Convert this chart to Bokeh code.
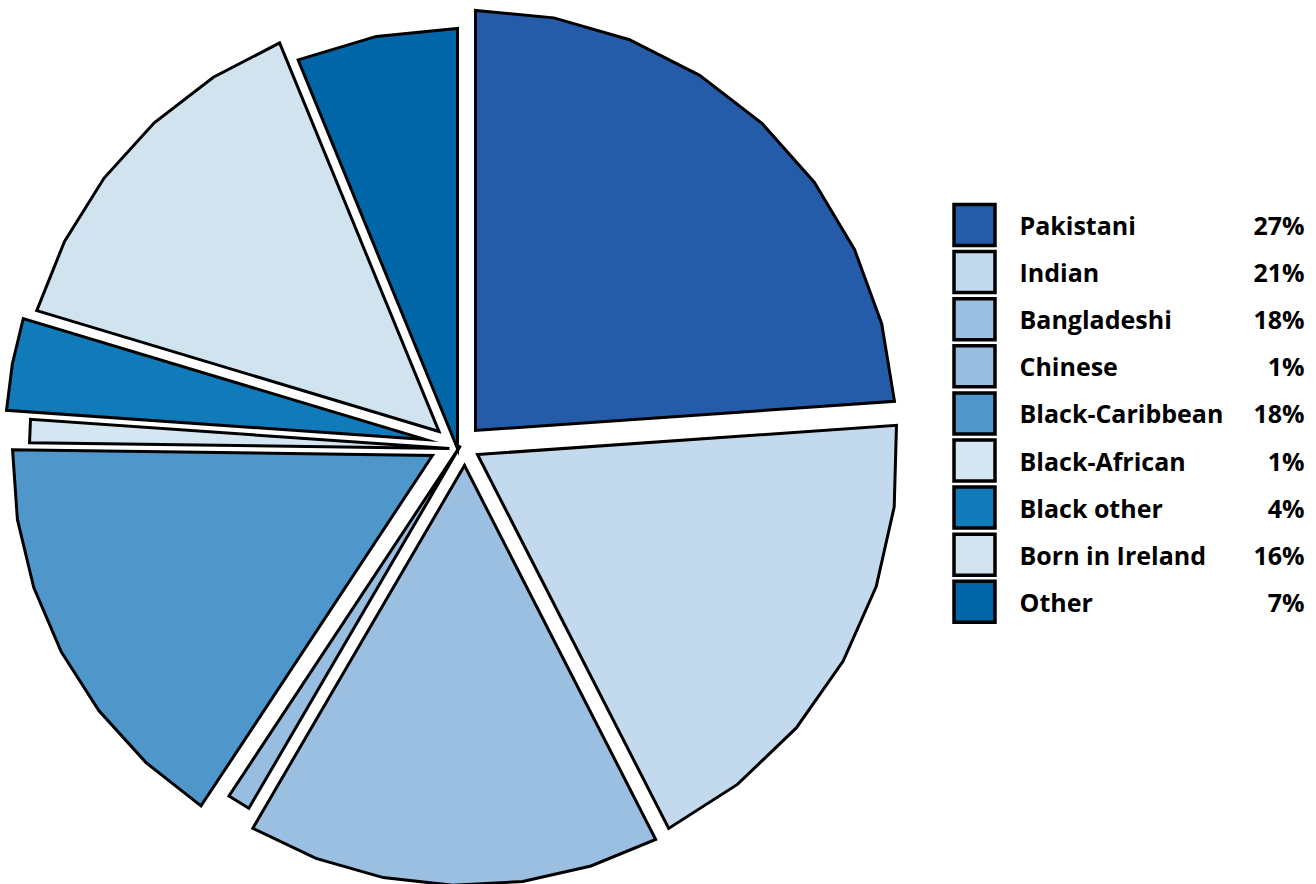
import math
from bokeh.plotting import figure
from bokeh.models import Range1d, ColumnDataSource
from bokeh.core.properties import value
from bokeh.embed import file_html
from bokeh.resources import INLINE

# ---- data ----
categories = ["Pakistani", "Indian", "Bangladeshi", "Chinese", "Black-Caribbean",
              "Black-African", "Black other", "Born in Ireland", "Other"]
shares = [27, 21, 18, 1, 18, 1, 4, 16, 7]

# ---- style ----
colors = ["#255CAA", "#C3DAEE", "#9ABFE1", "#97BEE0", "#4F97CA",
          "#D4E6F2", "#117AB9", "#D0E3EF", "#0066A8"]
# per-slice explode offsets in pixels (screen coords, y down)
explode_dx = [20, 22, 9, 5, -23, -6, -30, -16.5, 2]
explode_dy = [-17, 7, 18, -2, 8, 1, -8, -16, 1]

W, H = 1316, 884
p = figure(width=W, height=H, x_range=Range1d(0, W), y_range=Range1d(H, 0),
           output_backend="svg", toolbar_location=None, min_border=0)
p.axis.visible = False
p.grid.visible = False
p.outline_line_color = None

CX, CY, R = 455, 447, 420
total = sum(shares)
xs, ys = [], []
start = 0.0
for v, dx, dy in zip(shares, explode_dx, explode_dy):
    span = 360.0 * v / total
    n = max(1, math.ceil(span / 11.25))
    ax, ay = CX + dx, CY + dy
    px, py = [ax], [ay]
    for k in range(n + 1):
        a = math.radians(start + span * k / n)
        px.append(ax + R * math.sin(a))
        py.append(ay - R * math.cos(a))
    xs.append(px)
    ys.append(py)
    start += span

pie_src = ColumnDataSource(dict(xs=xs, ys=ys, color=colors, name=categories))
p.patches("xs", "ys", source=pie_src, fill_color="color", line_color="black",
          line_width=3, line_join="miter")

# ---- legend ----
row0, step = 224.5, 47.1
rows = [row0 + step * i for i in range(len(categories))]
leg_src = ColumnDataSource(dict(y=rows, name=categories, color=colors,
                                pct=[f"{v}%" for v in shares]))
p.rect(x=974, y="y", width=41, height=41, source=leg_src, fill_color="color",
       line_color="black", line_width=3.5, line_join="miter")
p.text(x=1019, y="y", text="name", source=leg_src, text_baseline="middle",
       text_font=value("Open Sans"), text_font_style="bold", text_font_size="25px",
       text_color="black")
p.text(x=1304, y="y", text="pct", source=leg_src, text_baseline="middle",
       text_align="right", text_font=value("Open Sans"), text_font_style="bold",
       text_font_size="25px", text_color="black")

open("out.html", "w").write(file_html(p, INLINE))
